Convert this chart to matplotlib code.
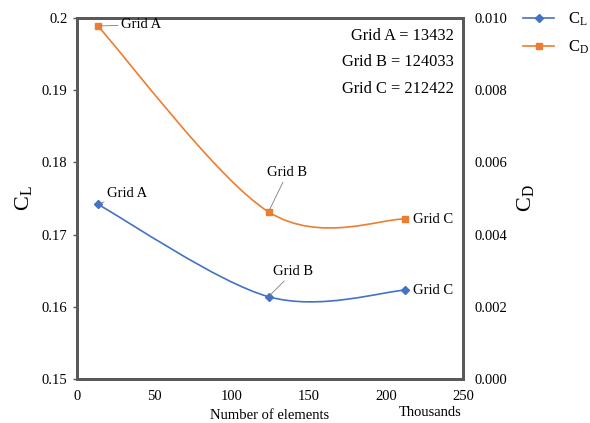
import numpy as np
import matplotlib
matplotlib.use("Agg")
import matplotlib.pyplot as plt
from matplotlib.path import Path
from matplotlib.patches import PathPatch

plt.rcParams['font.family'] = ['Liberation Serif', 'DejaVu Serif']
plt.rcParams['mathtext.fontset'] = 'custom'
plt.rcParams['mathtext.rm'] = 'Liberation Serif'

# data (x in thousands of elements)
grids = ['Grid A', 'Grid B', 'Grid C']
elements = [13.432, 124.033, 212.422]
cl = [0.1742, 0.1614, 0.1623]
cd = [0.00978, 0.00463, 0.00443]

blue = '#4472C4'
orange = '#ED7D31'
frame = '#595959'


def smooth_path(x, y):
    # Excel-like smoothed line: cubic Bezier through the points
    pts = np.column_stack([x, y])
    ext = np.vstack([pts[0], pts, pts[-1]])
    verts = [pts[0]]
    codes = [Path.MOVETO]
    for i in range(len(pts) - 1):
        p0, p1, p2, p3 = ext[i], ext[i + 1], ext[i + 2], ext[i + 3]
        verts += [p1 + (p2 - p0) / 6, p2 - (p3 - p1) / 6, p2]
        codes += [Path.CURVE4] * 3
    return Path(verts, codes)


fig = plt.figure(figsize=(5.9, 4.23), dpi=100)
ax = fig.add_axes([77 / 590, 44 / 423, 386 / 590, 361 / 423])
ax2 = ax.twinx()

ax.add_patch(PathPatch(smooth_path(elements, cl), fill=False, ec=blue, lw=1.2))
ax2.add_patch(PathPatch(smooth_path(elements, cd), fill=False, ec=orange, lw=1.2))
l1, = ax.plot(elements, cl, ls='none', marker='D', ms=4, color=blue)
l2, = ax2.plot(elements, cd, ls='none', marker='s', ms=4.5, color=orange)

ax.set_xlim(0, 250)
ax.set_ylim(0.15, 0.2)
ax2.set_ylim(0, 0.01)
ax.set_xticks(np.arange(0, 251, 50))
ax.set_yticks([0.15, 0.16, 0.17, 0.18, 0.19, 0.2])
ax.set_yticklabels(['0.15', '0.16', '0.17', '0.18', '0.19', '0.2'])
ax2.set_yticks(np.arange(0, 0.0101, 0.002))
ax2.set_yticklabels(['%.3f' % v for v in np.arange(0, 0.0101, 0.002)])

ax.tick_params(axis='x', length=0, labelsize=10.5, pad=8)
ax.tick_params(axis='y', length=3, width=1, color=frame, labelsize=10.5, pad=4)
ax2.tick_params(axis='y', length=0, labelsize=10.5, pad=8)
for a in (ax, ax2):
    for s in a.spines.values():
        s.set_color(frame)
        s.set_linewidth(2)

ax.set_ylabel(r'$\mathregular{C_L}$', fontsize=16)
ax.yaxis.set_label_coords(-0.112, 0.5)
ax2.set_ylabel(r'$\mathregular{C_D}$', fontsize=16, rotation=90)
ax2.yaxis.set_label_coords(1.135, 0.5)
ax.set_xlabel('Number of elements', fontsize=10.5, labelpad=4)
fig.text(430 / 590, 11 / 423, 'Thousands', ha='center', va='center', fontsize=10.5)

# point labels
lk = dict(arrowstyle='-', color='#7f7f7f', lw=0.6, shrinkA=0, shrinkB=2)
ax2.annotate(grids[0], (elements[0], cd[0]), xytext=(23, 1), textcoords='offset pixels',
             ha='left', va='center', fontsize=10.5, arrowprops=lk)
ax.annotate(grids[0], (elements[0], cl[0]), xytext=(9, 11), textcoords='offset pixels',
            ha='left', va='center', fontsize=10.5, arrowprops=lk)
ax2.annotate(grids[1], (elements[1], cd[1]), xytext=(19, 39), textcoords='offset pixels',
             ha='center', va='center', fontsize=10.5, arrowprops=lk)
ax.annotate(grids[1], (elements[1], cl[1]), xytext=(25, 25), textcoords='offset pixels',
            ha='center', va='center', fontsize=10.5, arrowprops=lk)
ax2.annotate(grids[2], (elements[2], cd[2]), xytext=(8, 0), textcoords='offset pixels',
             ha='left', va='center', fontsize=10.5)
ax.annotate(grids[2], (elements[2], cl[2]), xytext=(8, 0), textcoords='offset pixels',
            ha='left', va='center', fontsize=10.5)

info = '\n'.join('%s = %d' % (g, round(e * 1000)) for g, e in zip(grids, elements))
ax.text(0.977, 0.972, info, transform=ax.transAxes, ha='right', va='top',
        fontsize=11.8, linespacing=1.85)

h1 = plt.Line2D([], [], color=blue, marker='D', ms=4.5, lw=1.2)
h2 = plt.Line2D([], [], color=orange, marker='s', ms=5, lw=1.2)
fig.legend([h1, h2], [r'$\mathregular{C_L}$', r'$\mathregular{C_D}$'],
           loc='upper left', bbox_to_anchor=(516 / 590, 1 - 4 / 423), frameon=False,
           fontsize=12, handlelength=1.9, handletextpad=0.8, labelspacing=0.65,
           borderaxespad=0)

fig.savefig('out.png', dpi=100)
